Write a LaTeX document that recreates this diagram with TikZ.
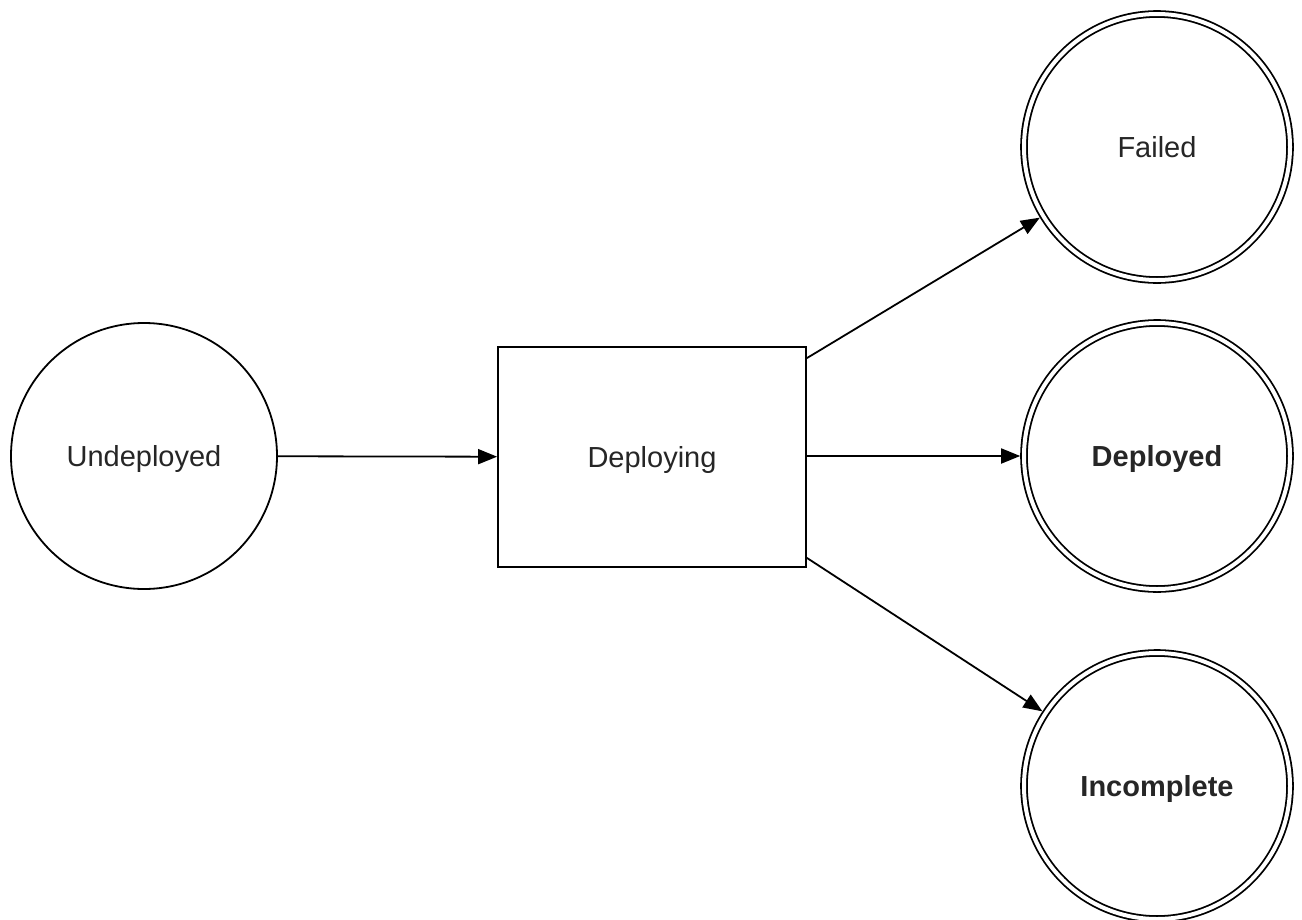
\documentclass[tikz,border=0pt]{standalone}
\usepackage{fontspec}
\setmainfont{Liberation Sans}
\usetikzlibrary{arrows.meta}
\begin{document}
\begin{tikzpicture}[x=1pt,y=-1pt,
  every node/.style={font=\fontsize{29}{34}\selectfont, text=black!85},
  label text/.style={text height=25pt, text depth=4pt},
  state/.style={circle, draw, line width=1.8pt, minimum size=266pt, inner sep=0pt, label text},
  final/.style={circle, draw, line width=1.8pt, double, double distance=4pt,
                minimum size=266pt, inner sep=0pt, outer sep=3.8pt, label text},
  proc/.style={rectangle, draw, line width=1.8pt, minimum width=308pt, minimum height=220pt, inner sep=0pt, label text},
  flow/.style={line width=1.8pt, -{Triangle[length=19pt,width=15pt]}}
]
\useasboundingbox (0,0) rectangle (1302,919);
\node[state] (und) at (144,456) {Undeployed};
\node[proc] (dep) at (652,457) {Deploying};
\node[final] (fail) at (1157,147) {Failed};
\node[final] (done) at (1157,456) {\textbf{Deployed}};
\node[final] (inc) at (1157,786) {\textbf{Incomplete}};
\draw[flow] (und) -- (dep);
\draw[flow] (dep.east |- done) -- (done);
\draw[flow] ([yshift=-12pt]dep.north east) -- (fail);
\draw[flow] ([yshift=10pt]dep.south east) -- (inc);
\end{tikzpicture}
\end{document}
